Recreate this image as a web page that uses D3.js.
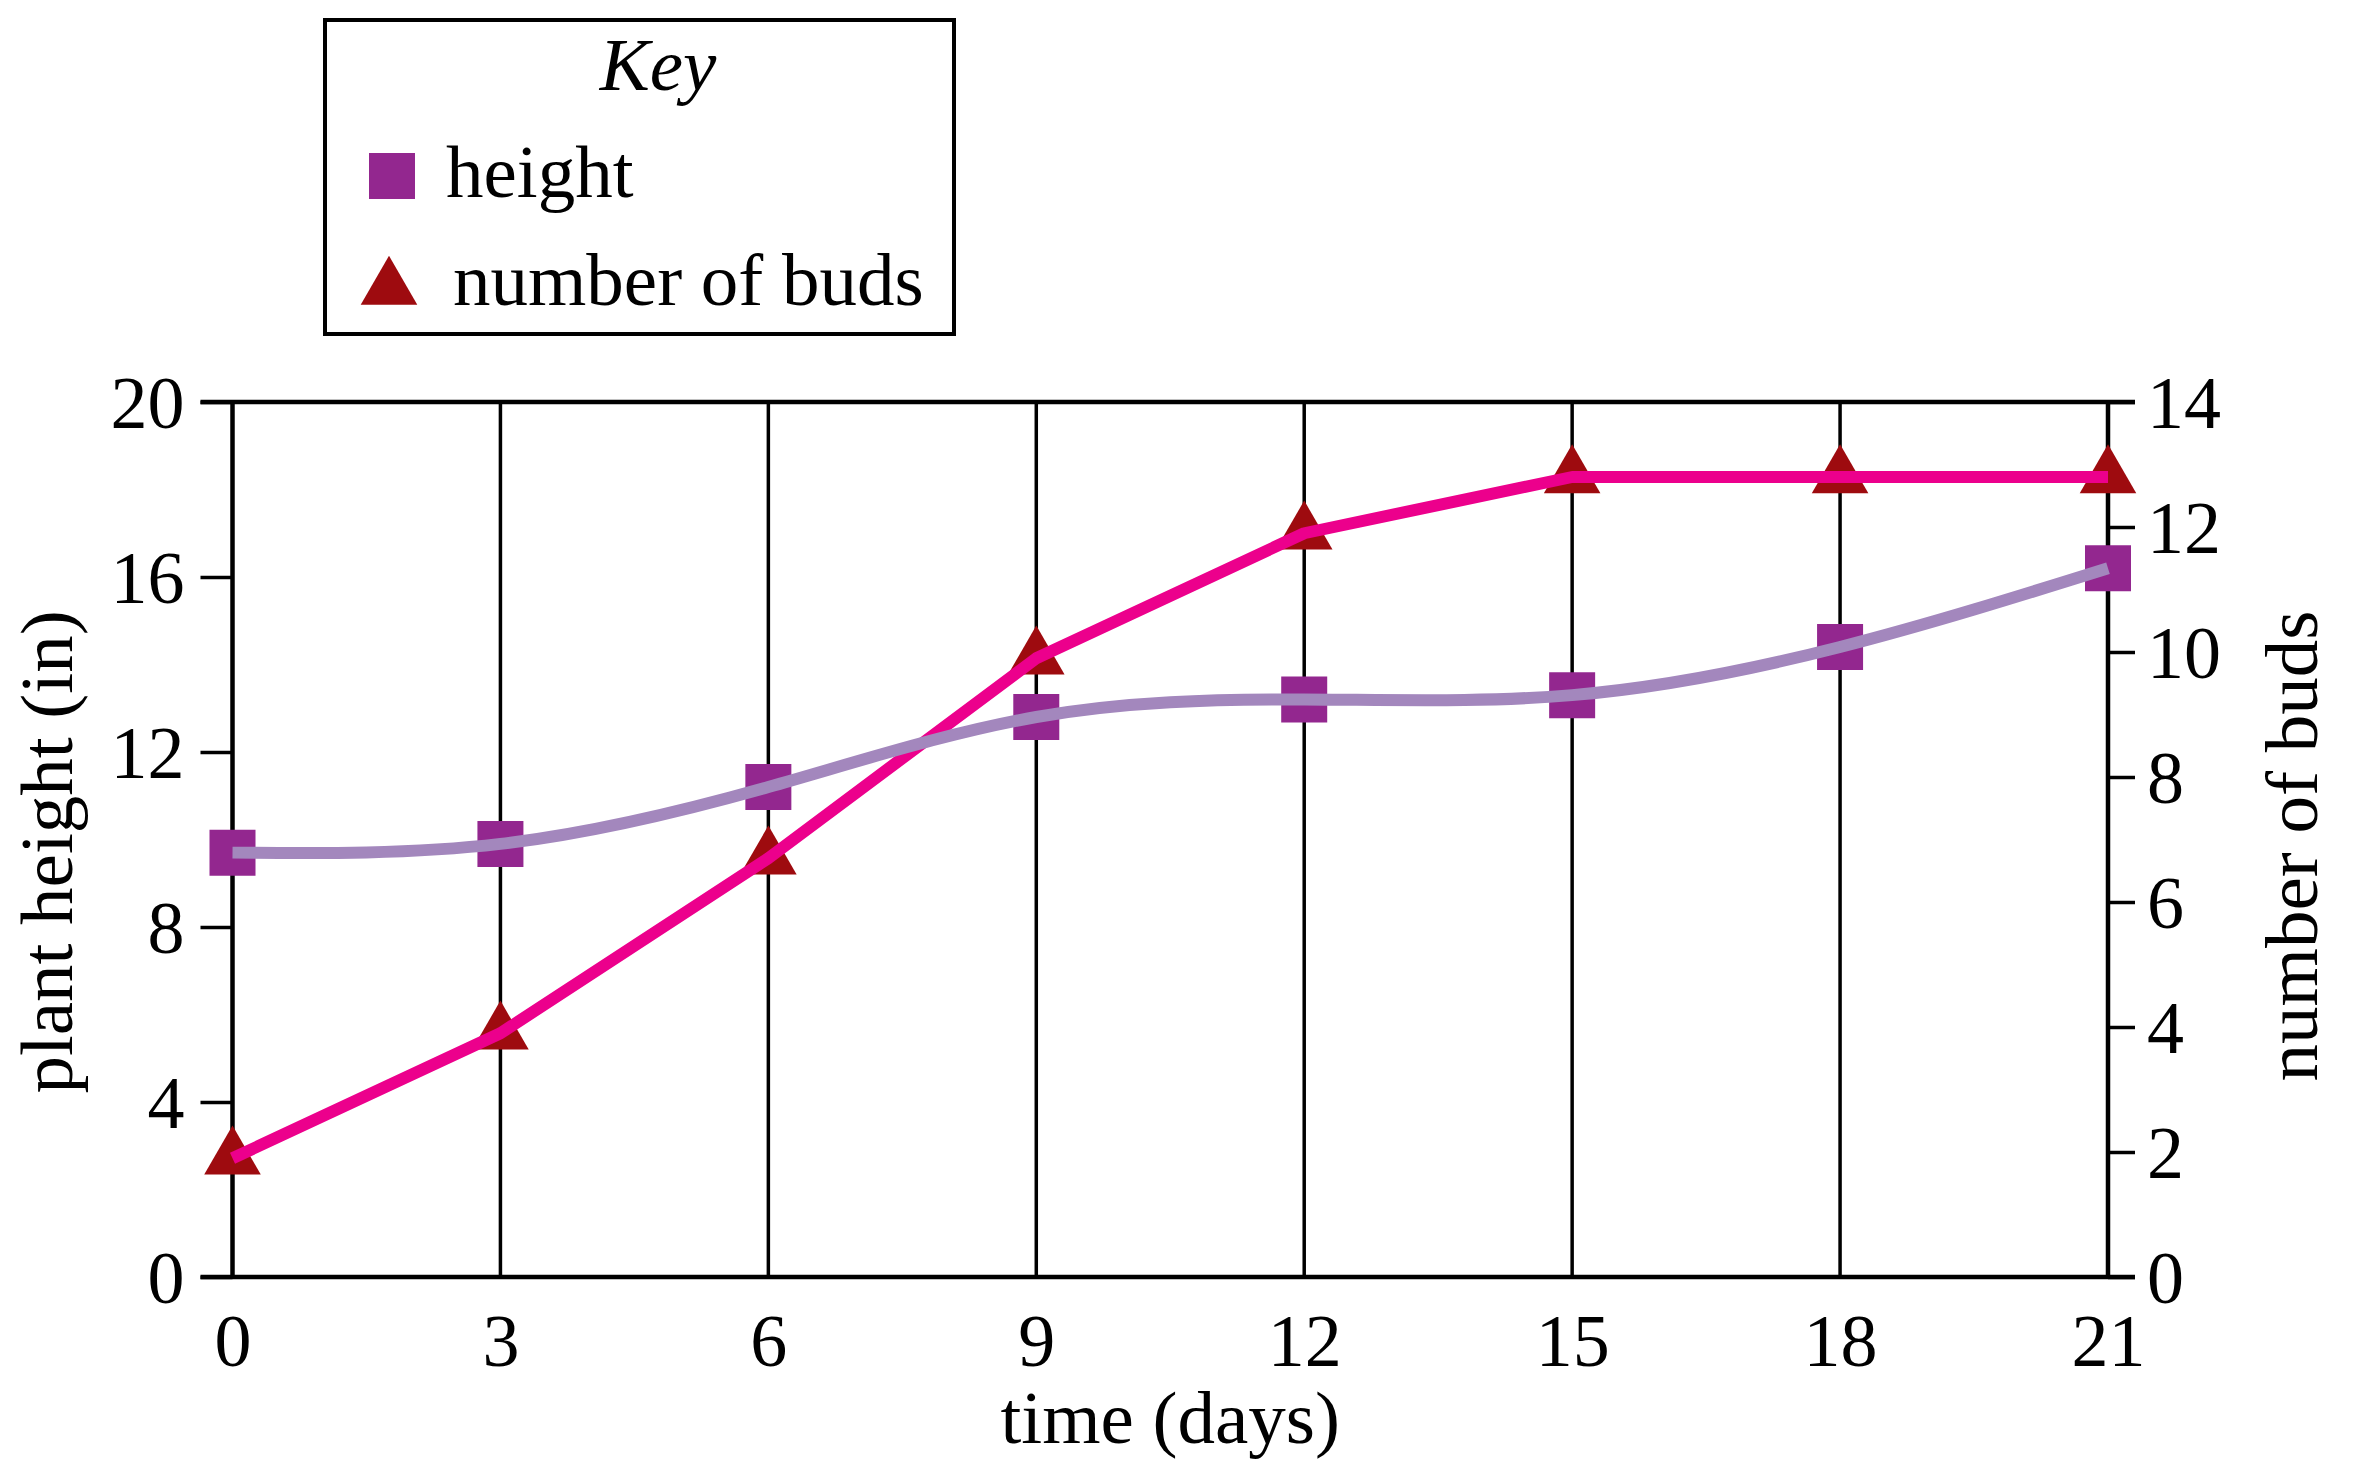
<!DOCTYPE html>
<html>
<head>
<meta charset="utf-8">
<script src="https://cdn.jsdelivr.net/npm/d3@7"></script>
<style>
  html, body { margin: 0; padding: 0; background: #ffffff; }
  svg { display: block; font-family: "Liberation Serif", "Times New Roman", serif; }
</style>
</head>
<body>
<svg id="chart" width="2356" height="1472"></svg>
<script>
// ---- data ----
const days = [0, 3, 6, 9, 12, 15, 18, 21];
const heightValues = [9.7, 9.9, 11.2, 12.8, 13.2, 13.3, 14.4, 16.2];
const budValues = [1.9, 3.9, 6.7, 9.9, 11.9, 12.8, 12.8, 12.8];
const dayTicks = [0, 3, 6, 9, 12, 15, 18, 21];
const heightTicks = [0, 4, 8, 12, 16, 20];
const budTicks = [0, 2, 4, 6, 8, 10, 12, 14];
const legendItems = ["height", "number of buds"];

// ---- layout ----
const W = 2356, H = 1472;
const plot = { left: 232.5, right: 2108, top: 402, bottom: 1277 };
const colors = { square: "#93278F", triangle: "#9E0B0F", heightLine: "#A387BD", budLine: "#EC008C" };

const svg = d3.select("#chart");
svg.append("rect").attr("width", W).attr("height", H).attr("fill", "#fff");

const x = d3.scaleLinear().domain([0, 21]).range([plot.left, plot.right]);
const yL = d3.scaleLinear().domain([0, 20]).range([plot.bottom, plot.top]);
const yR = d3.scaleLinear().domain([0, 14]).range([plot.bottom, plot.top]);

// vertical grid lines (inner days)
svg.append("g").selectAll("line")
  .data(dayTicks.filter(d => d > 0 && d < 21))
  .join("line")
  .attr("x1", d => x(d)).attr("x2", d => x(d))
  .attr("y1", plot.top).attr("y2", plot.bottom)
  .attr("stroke", "#000").attr("stroke-width", 3.5);

// left axis
const gL = svg.append("g").attr("transform", `translate(${plot.left},0)`)
  .call(d3.axisLeft(yL).tickValues(heightTicks).tickSize(32).tickPadding(16).tickFormat(d3.format("d")));
gL.select(".domain").remove();
gL.selectAll(".tick line").attr("stroke-width", 3.5);
gL.selectAll(".tick text").attr("font-size", 74).attr("font-family", "Liberation Serif").attr("fill", "#000").attr("dy", "0.34em");

// right axis
const gR = svg.append("g").attr("transform", `translate(${plot.right},0)`)
  .call(d3.axisRight(yR).tickValues(budTicks).tickSize(27).tickPadding(12).tickFormat(d3.format("d")));
gR.select(".domain").remove();
gR.selectAll(".tick line").attr("stroke-width", 3.5);
gR.selectAll(".tick text").attr("font-size", 74).attr("font-family", "Liberation Serif").attr("fill", "#000").attr("dy", "0.34em");

// bottom axis (labels only; gridlines drawn above)
const gB = svg.append("g").attr("transform", `translate(0,${plot.bottom})`)
  .call(d3.axisBottom(x).tickValues(dayTicks).tickSize(0).tickPadding(36).tickFormat(d3.format("d")));
gB.select(".domain").remove();
gB.selectAll(".tick text").attr("font-size", 74).attr("font-family", "Liberation Serif").attr("fill", "#000");

// frame lines
svg.append("line").attr("x1", plot.left).attr("x2", plot.left).attr("y1", plot.top).attr("y2", plot.bottom)
  .attr("stroke", "#000").attr("stroke-width", 4.5);
svg.append("line").attr("x1", plot.right).attr("x2", plot.right).attr("y1", plot.top).attr("y2", plot.bottom)
  .attr("stroke", "#000").attr("stroke-width", 4.5);
svg.append("line").attr("x1", plot.left - 32).attr("x2", plot.right + 27).attr("y1", plot.top).attr("y2", plot.top)
  .attr("stroke", "#000").attr("stroke-width", 4.5);
svg.append("line").attr("x1", plot.left - 32).attr("x2", plot.right + 27).attr("y1", plot.bottom).attr("y2", plot.bottom)
  .attr("stroke", "#000").attr("stroke-width", 4.5);

// axis titles
svg.append("text").attr("x", (plot.left + plot.right) / 2).attr("y", 1443)
  .attr("text-anchor", "middle").attr("font-size", 75).text("time (days)");
svg.append("text").attr("transform", "translate(72,852) rotate(-90)")
  .attr("text-anchor", "middle").attr("font-size", 75).text("plant height (in)");
svg.append("text").attr("transform", "translate(2317,846) rotate(-90)")
  .attr("text-anchor", "middle").attr("font-size", 75).text("number of buds");

// markers
const heightPts = days.map((d, i) => [d, heightValues[i]]);
const budPts = days.map((d, i) => [d, budValues[i]]);
const sqSym = d3.symbol().type(d3.symbolSquare).size(46 * 46);
const triSym = d3.symbol().type(d3.symbolTriangle).size(1386);

svg.append("g").selectAll("path").data(heightPts).join("path")
  .attr("transform", d => `translate(${x(d[0])},${yL(d[1])})`)
  .attr("d", sqSym).attr("fill", colors.square);
svg.append("g").selectAll("path").data(budPts).join("path")
  .attr("transform", d => `translate(${x(d[0])},${yR(d[1])})`)
  .attr("d", triSym).attr("fill", colors.triangle);

// lines
const budLine = d3.line().x(d => x(d[0])).y(d => yR(d[1])).curve(d3.curveLinear);
const heightLine = d3.line().x(d => x(d[0])).y(d => yL(d[1])).curve(d3.curveNatural);
svg.append("path").datum(budPts).attr("d", budLine)
  .attr("fill", "none").attr("stroke", colors.budLine).attr("stroke-width", 12)
  .attr("stroke-linejoin", "round");
svg.append("path").datum(heightPts).attr("d", heightLine)
  .attr("fill", "none").attr("stroke", colors.heightLine).attr("stroke-width", 12);

// legend
const lg = svg.append("g");
lg.append("rect").attr("x", 325).attr("y", 20).attr("width", 629).attr("height", 314)
  .attr("fill", "#fff").attr("stroke", "#000").attr("stroke-width", 4);
lg.append("text").attr("x", 658).attr("y", 90).attr("text-anchor", "middle")
  .attr("font-size", 75).attr("font-style", "italic").text("Key");
lg.append("path").attr("transform", "translate(392,176)").attr("d", sqSym).attr("fill", colors.square);
lg.append("path").attr("transform", "translate(389,288.5)").attr("d", triSym).attr("fill", colors.triangle);
lg.append("text").attr("x", 446).attr("y", 197).attr("font-size", 75).text(legendItems[0]);
lg.append("text").attr("x", 453).attr("y", 305).attr("font-size", 75).text(legendItems[1]);
</script>
</body>
</html>
